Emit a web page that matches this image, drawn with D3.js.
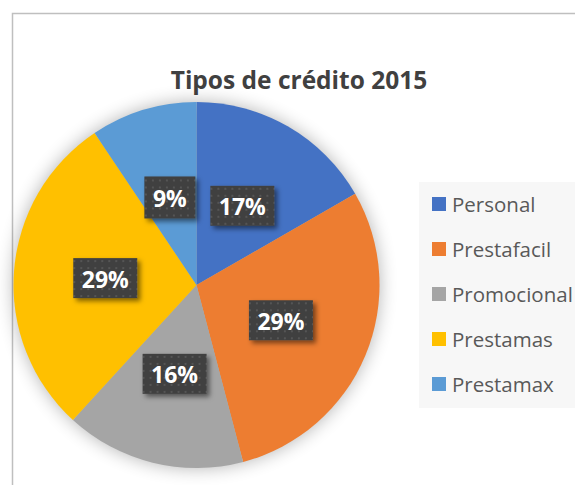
<!DOCTYPE html>
<html lang="es">
<head>
<meta charset="UTF-8">
<title>Tipos de crédito 2015</title>
<style>
  body { margin: 0; background: #fff; }
  svg { display: block; }
</style>
</head>
<body>
<script src="https://cdn.jsdelivr.net/npm/d3@7"></script>
<script>
// datos
var categorias = ["Personal", "Prestafacil", "Promocional", "Prestamas", "Prestamax"];
var valores = [16.7, 29.2, 15.9, 28.8, 9.4];
var colores = ["#4472C4", "#ED7D31", "#A5A5A5", "#FFC000", "#5B9BD5"];
var titulo = "Tipos de crédito 2015";

var W = 575, H = 485;
var svg = d3.select("body").append("svg").attr("width", W).attr("height", H);
var defs = svg.append("defs");

// sombra suave del pastel
var halo = defs.append("filter").attr("id", "halo")
  .attr("x", "-30%").attr("y", "-30%").attr("width", "160%").attr("height", "160%");
halo.append("feGaussianBlur").attr("in", "SourceAlpha").attr("stdDeviation", 9);
halo.append("feComponentTransfer").append("feFuncA").attr("type", "linear").attr("slope", 0.3);

// sombra de las etiquetas
var sombra = defs.append("filter").attr("id", "sombra")
  .attr("x", "-20%").attr("y", "-20%").attr("width", "150%").attr("height", "160%");
sombra.append("feDropShadow").attr("dx", 3).attr("dy", 3).attr("stdDeviation", 2.5)
  .attr("flood-color", "#000").attr("flood-opacity", 0.5);

// patron de puntos
var pat = defs.append("pattern").attr("id", "puntos")
  .attr("width", 7).attr("height", 7).attr("patternUnits", "userSpaceOnUse");
pat.append("rect").attr("width", 7).attr("height", 7).attr("fill", "#404040");
pat.append("rect").attr("x", 3).attr("y", 3).attr("width", 2).attr("height", 2).attr("fill", "#555555");

// borde del grafico
svg.append("rect")
  .attr("x", 12.5).attr("y", 13.5).attr("width", W + 20).attr("height", H + 20)
  .attr("fill", "#fff").attr("stroke", "#BFBFBF").attr("stroke-width", 1.5);

// titulo
svg.append("text")
  .attr("x", 299).attr("y", 89)
  .attr("text-anchor", "middle")
  .attr("font-family", "'Open Sans', sans-serif")
  .attr("font-weight", "bold")
  .attr("font-size", 24.5)
  .attr("fill", "#404040")
  .text(titulo);

var cx = 196.5, cy = 285, R = 183;

var pie = d3.pie().sort(null).value(function(d){ return d; });
var arcos = pie(valores);
var arc = d3.arc().innerRadius(0).outerRadius(R);

var g = svg.append("g").attr("transform", "translate(" + cx + "," + cy + ")");

g.append("circle").attr("r", R).attr("fill", "#000").attr("filter", "url(#halo)");

g.selectAll("path.slice").data(arcos).enter().append("path")
  .attr("class", "slice")
  .attr("d", arc)
  .attr("fill", function(d, i){ return colores[i]; });

// etiquetas de porcentaje
var total = d3.sum(valores);
var etiquetas = g.selectAll("g.etq").data(arcos).enter().append("g")
  .attr("class", "etq")
  .attr("transform", function(d){
    var c = arc.centroid(d);
    return "translate(" + c[0] + "," + c[1] + ")";
  });

etiquetas.each(function(d){
  var el = d3.select(this);
  var txt = Math.round(d.value / total * 100) + "%";
  var bw = txt.length > 2 ? 64 : 51;
  var bh = txt.length > 2 ? 40 : 42;
  el.append("rect")
    .attr("x", -bw / 2).attr("y", -bh / 2)
    .attr("width", bw).attr("height", bh)
    .attr("fill", "url(#puntos)")
    .attr("filter", "url(#sombra)");
  el.append("text")
    .attr("text-anchor", "middle")
    .attr("y", 9.5)
    .attr("font-family", "'Open Sans', sans-serif")
    .attr("font-weight", "bold")
    .attr("font-size", 23)
    .attr("fill", "#fff")
    .text(txt);
});

// leyenda
var ley = svg.append("g");
ley.append("rect")
  .attr("x", 419).attr("y", 182).attr("width", 170).attr("height", 226)
  .attr("fill", "#F7F7F7");

var y = d3.scalePoint().domain(categorias).range([204, 384]);

var items = ley.selectAll("g.item").data(categorias).enter().append("g")
  .attr("class", "item")
  .attr("transform", function(d){ return "translate(432," + y(d) + ")"; });

items.append("rect")
  .attr("x", 0).attr("y", -7).attr("width", 14).attr("height", 14)
  .attr("fill", function(d, i){ return colores[i]; });

items.append("text")
  .attr("x", 20).attr("y", 7.5)
  .attr("font-family", "'Open Sans', sans-serif")
  .attr("font-size", 20.5)
  .attr("fill", "#595959")
  .text(function(d){ return d; });
</script>
</body>
</html>
